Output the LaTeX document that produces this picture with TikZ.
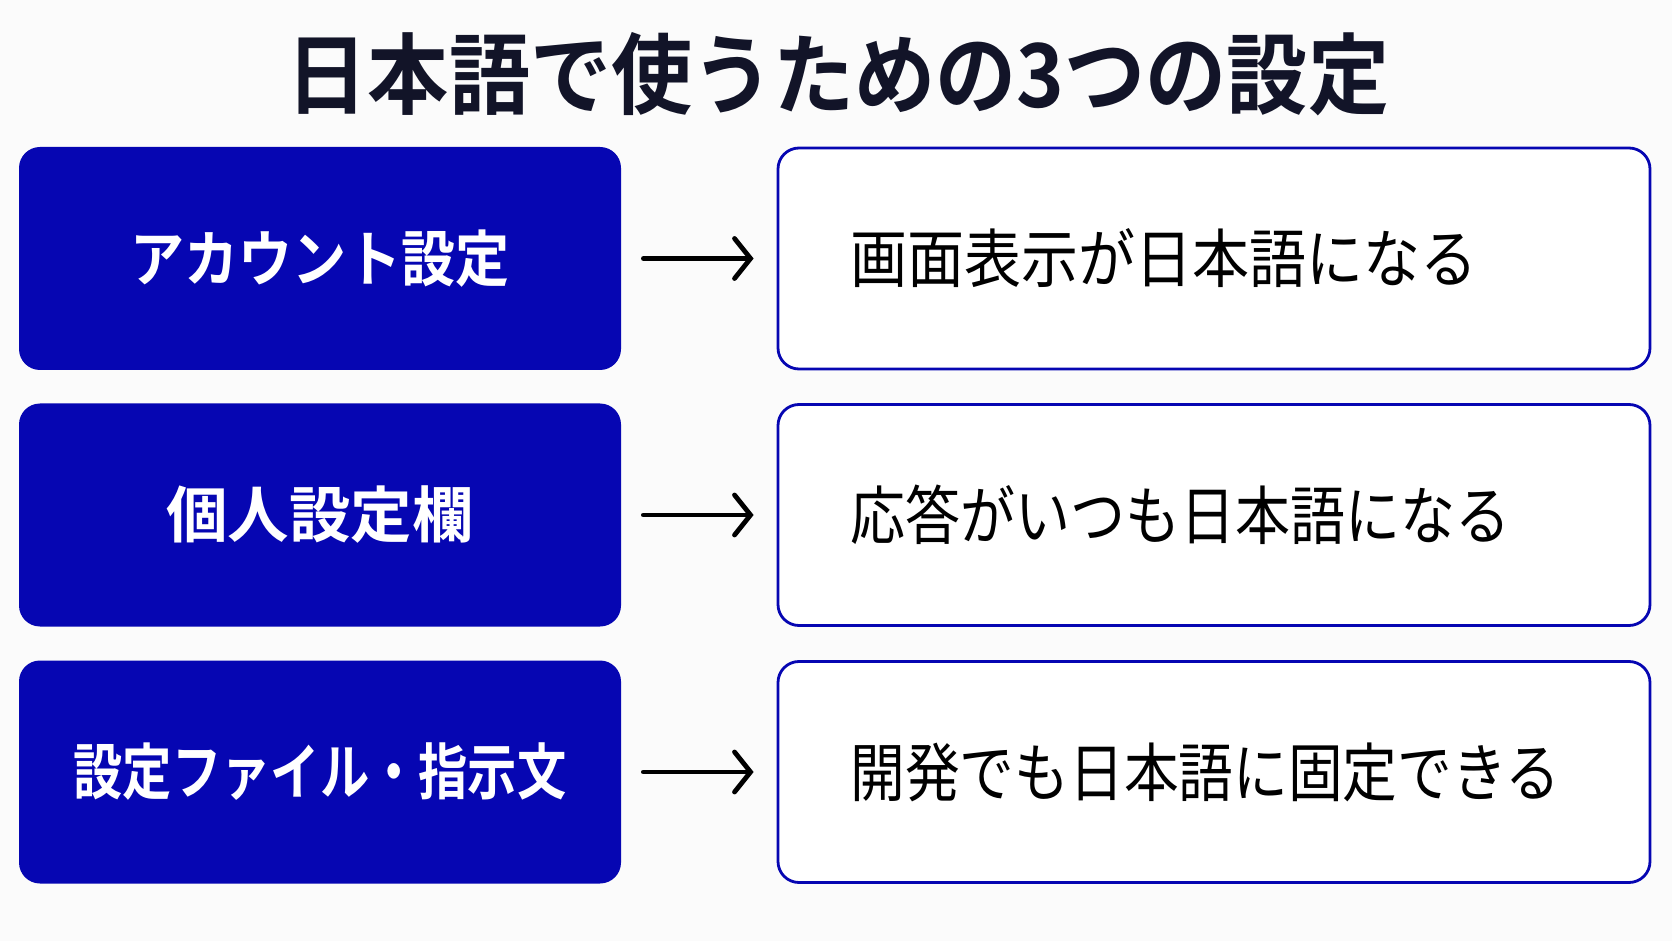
\documentclass[tikz,border=0pt]{standalone}
\usepackage{fontspec}
\newfontfamily\jp{Noto Sans CJK JP}
\newfontfamily\jpb{Noto Sans CJK JP Bold}
\usetikzlibrary{arrows.meta}
\definecolor{deepblue}{RGB}{6,6,178}
\definecolor{titlecol}{RGB}{18,20,40}
\definecolor{bg}{RGB}{251,251,251}
\tikzset{
  leftbox/.style={fill=deepblue, draw=none, rounded corners=10.5pt,
    minimum width=301pt, minimum height=111.5pt, inner sep=0pt,
    text=white, font=\jpb\fontsize{26.5}{30}\selectfont},
  rightbox/.style={fill=white, draw=deepblue, line width=1.4pt, rounded corners=10.5pt,
    minimum width=436pt, minimum height=110.5pt, inner sep=0pt},
  righttext/.style={anchor=west, inner sep=0pt, text=black, font=\jp\fontsize{28.5}{32}\selectfont},
  conn/.style={line width=2.4pt, line cap=round, -{Straight Barb[length=8pt,width=20pt,line cap=round]},
    shorten <=11pt, shorten >=11.5pt}
}
\begin{document}
\begin{tikzpicture}[x=0.5pt,y=-0.5pt]
\fill[bg] (0,0) rectangle (1672,941);
\useasboundingbox (0,0) rectangle (1672,941);
\node[text=titlecol, font=\jpb\fontsize{39}{44}\selectfont, inner sep=0pt] (title) at (838,74) {\scalebox{1.04}[1.13]{日本語で使うための3つの設定}};

\node[leftbox] (a1) at (320,258.5) {\scalebox{1.02}[1.15]{アカウント設定}};
\node[leftbox] (a2) at (320,515) {\scalebox{1.16}[1.15]{個人設定欄}};
\node[leftbox] (a3) at (320,772) {\scalebox{0.93}[1.15]{設定ファイル・指示文}};

\node[rightbox] (b1) at (1214,258.5) {};
\node[rightbox] (b2) at (1214,515) {};
\node[rightbox] (b3) at (1214,772) {};

\node[righttext] (t1) at (850,258.5) {\scalebox{1.0}[1.12]{画面表示が日本語になる}};
\node[righttext] (t2) at (850,515) {\scalebox{0.965}[1.12]{応答がいつも日本語になる}};
\node[righttext] (t3) at (850,772) {\scalebox{0.96}[1.12]{開発でも日本語に固定できる}};

\draw[conn] (a1) -- (b1);
\draw[conn] (a2) -- (b2);
\draw[conn] (a3) -- (b3);
\end{tikzpicture}
\end{document}
